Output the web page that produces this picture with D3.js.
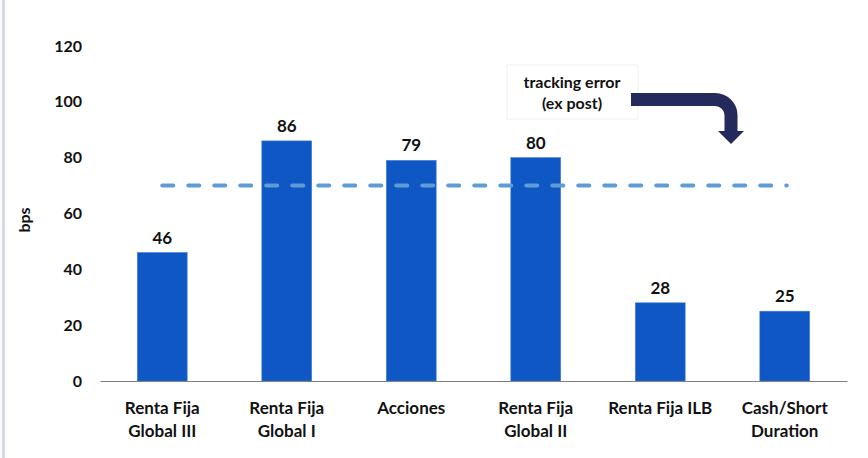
<!DOCTYPE html>
<html>
<head>
<meta charset="utf-8">
<script src="https://cdn.jsdelivr.net/npm/d3@7"></script>
<style>
  body { margin: 0; background: #fff; }
  svg { display: block; font-family: Lato, "Open Sans", sans-serif; }
</style>
</head>
<body>
<svg id="chart" width="868" height="458"></svg>
<script>
// datos del grafico
const categorias = ["Renta Fija|Global III", "Renta Fija|Global I", "Acciones", "Renta Fija|Global II", "Renta Fija ILB", "Cash/Short|Duration"];
const valores = [46, 86, 79, 80, 28, 25];
const limite = 70;
const ticksY = [0, 20, 40, 60, 80, 100, 120];

const svg = d3.select("#chart");
const width = 868, height = 458;

// borde izquierdo
svg.append("rect").attr("x", 2).attr("y", 0).attr("width", 3).attr("height", height).attr("fill", "#d3dbe9");

// titulo (cortado arriba, como en la original)
svg.append("text").attr("x", 20).attr("y", -4)
  .attr("fill", "#1a5ad6").attr("font-size", 20)
  .text("Tracking error ex post por mandato (en puntos base) y limite aprobado");

const x = d3.scaleBand().domain(categorias).range([100, 847]).paddingInner(0.6).paddingOuter(0.3);
const y = d3.scaleLinear().domain([0, 120]).range([381, 46]);

// eje Y
const ejeY = svg.append("g").attr("transform", "translate(83,0)")
  .call(d3.axisLeft(y).tickValues(ticksY).tickSize(0).tickPadding(1));
ejeY.select(".domain").remove();
ejeY.selectAll("text").attr("font-size", 16).attr("font-weight", "bold").attr("fill", "#111")
  .attr("font-family", "Lato, sans-serif");

svg.append("text")
  .attr("transform", "translate(30,220) rotate(-90)")
  .attr("text-anchor", "middle").attr("font-size", 16).attr("font-weight", "bold").attr("fill", "#111")
  .text("bps");

// barras
svg.selectAll(".barra").data(valores).enter().append("rect")
  .attr("class", "barra")
  .attr("x", (d, i) => x(categorias[i]))
  .attr("y", d => y(d))
  .attr("width", x.bandwidth())
  .attr("height", d => y(0) - y(d))
  .attr("fill", "#0f57c4")
  .attr("stroke", "#3a7ad6").attr("stroke-width", 0.6);

// etiquetas de valor
svg.selectAll(".valor").data(valores).enter().append("text")
  .attr("class", "valor")
  .attr("x", (d, i) => x(categorias[i]) + x.bandwidth() / 2)
  .attr("y", d => y(d) - 9)
  .attr("text-anchor", "middle").attr("font-size", 17).attr("font-weight", "bold").attr("fill", "#111")
  .text(d => d);

// eje X
const ejeX = svg.append("g").attr("transform", "translate(0," + y(0) + ")")
  .call(d3.axisBottom(x).tickSize(0).tickSizeOuter(0));
ejeX.select(".domain").attr("stroke", "#7f7f7f").attr("stroke-width", 1.2);
ejeX.selectAll("text").each(function(d) {
  const t = d3.select(this);
  t.text(null).attr("y", 33).attr("dy", 0).attr("font-size", 17).attr("font-weight", "bold").attr("fill", "#111")
    .attr("font-family", "Lato, sans-serif");
  d.split("|").forEach((linea, k) => {
    t.append("tspan").attr("x", 0).attr("dy", k === 0 ? 0 : 23).text(linea);
  });
});

// linea de limite
const x1 = x(categorias[0]) + x.bandwidth() / 2;
const x2 = x(categorias[categorias.length - 1]) + x.bandwidth() / 2;
svg.append("line")
  .attr("x1", x1).attr("x2", x2 + 2)
  .attr("y1", y(limite)).attr("y2", y(limite))
  .attr("stroke", "#5f9bd6").attr("stroke-width", 4)
  .attr("stroke-dasharray", "11 15").attr("stroke-linecap", "round");

// anotacion
svg.append("rect").attr("x", 507).attr("y", 65).attr("width", 131).attr("height", 54)
  .attr("fill", "#fff").attr("stroke", "#f0f0f0");
const nota = svg.append("text").attr("text-anchor", "middle").attr("font-size", 16)
  .attr("font-weight", "bold").attr("fill", "#111");
nota.append("tspan").attr("x", 572).attr("y", 88).text("tracking error");
nota.append("tspan").attr("x", 572).attr("y", 109).text("(ex post)");

// flecha
svg.append("path")
  .attr("d", "M631,99.5 H715 A16,16 0 0 1 731,115.5 V132")
  .attr("fill", "none").attr("stroke", "#252a5c").attr("stroke-width", 13);
svg.append("path")
  .attr("d", "M718,131 L744,131 L731,144 Z")
  .attr("fill", "#252a5c");
</script>
</body>
</html>
